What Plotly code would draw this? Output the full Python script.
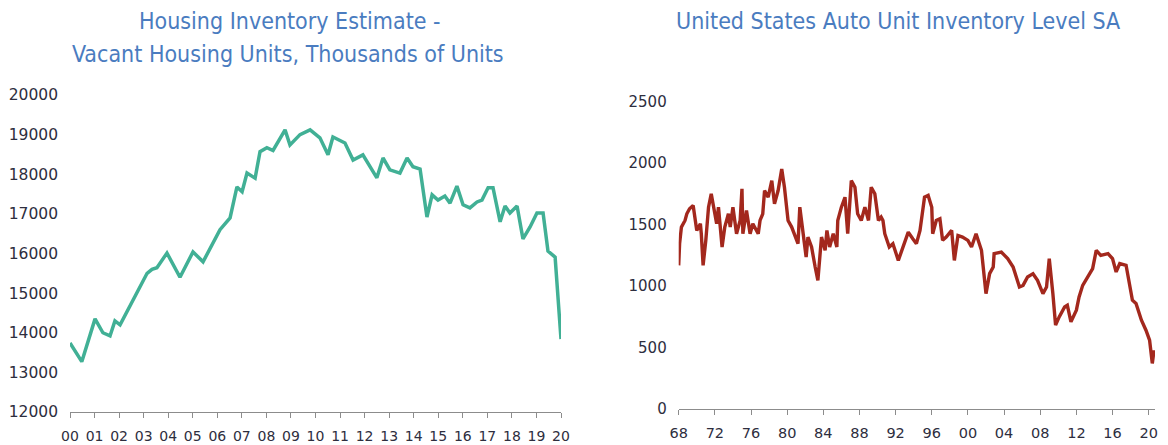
import plotly.graph_objects as go

# ---------------- Data ----------------
# Left: Housing inventory estimate (vacant housing units, thousands)
housing_years = [2000.0, 2000.48, 2001.02, 2001.34, 2001.63, 2001.83, 2002.04, 2002.57,
                 2003.14, 2003.34, 2003.54, 2003.95, 2004.48, 2005.01, 2005.42, 2006.11,
                 2006.52, 2006.80, 2007.01, 2007.21, 2007.54, 2007.74, 2008.02, 2008.27,
                 2008.76, 2008.96, 2009.37, 2009.78, 2010.18, 2010.51, 2010.71, 2011.20,
                 2011.53, 2011.93, 2012.50, 2012.75, 2013.03, 2013.44, 2013.73, 2013.97,
                 2014.26, 2014.54, 2014.75, 2014.99, 2015.27, 2015.48, 2015.76, 2016.01,
                 2016.29, 2016.58, 2016.78, 2017.03, 2017.23, 2017.52, 2017.72, 2017.92,
                 2018.21, 2018.45, 2018.74, 2019.02, 2019.27, 2019.47, 2019.76, 2020.0]
housing_values = [13740, 13270, 14350, 14000, 13920, 14300, 14200, 14830,
                  15500, 15600, 15640, 16010, 15400, 16040, 15790, 16600,
                  16900, 17680, 17560, 18030, 17900, 18570, 18670, 18600,
                  19120, 18740, 19000, 19120, 18920, 18490, 18940, 18790,
                  18360, 18490, 17910, 18410, 18110, 18030, 18410, 18190,
                  18130, 16920, 17480, 17350, 17450, 17270, 17700, 17230,
                  17150, 17300, 17350, 17660, 17660, 16800, 17200, 17020,
                  17200, 16370, 16670, 17020, 17020, 16060, 15910, 13840]

# Right: United States auto unit inventory level SA (thousands)
auto_years = [1968.0, 1968.1, 1968.3, 1968.7, 1968.9, 1969.2, 1969.6, 1969.8, 1970.0, 1970.4,
              1970.5, 1970.7, 1971.0, 1971.3, 1971.6, 1972.0, 1972.2, 1972.4, 1972.8, 1973.1,
              1973.5, 1973.7, 1974.0, 1974.4, 1974.8, 1975.0, 1975.1, 1975.5, 1975.9, 1976.2,
              1976.8, 1977.0, 1977.3, 1977.5, 1977.9, 1978.3, 1978.6, 1979.0, 1979.4, 1979.7,
              1980.1, 1980.5, 1980.9, 1981.2, 1981.4, 1981.8, 1982.1, 1982.3, 1982.7, 1983.1,
              1983.4, 1983.8, 1984.2, 1984.4, 1984.7, 1985.1, 1985.5, 1985.6, 1986.0, 1986.4,
              1986.7, 1987.1, 1987.5, 1987.8, 1988.2, 1988.6, 1989.0, 1989.3, 1989.7, 1990.1,
              1990.4, 1990.6, 1990.8, 1991.3, 1991.7, 1992.3, 1992.8, 1993.4, 1993.9, 1994.3,
              1994.7, 1995.2, 1995.6, 1996.0, 1996.1, 1996.5, 1996.9, 1997.2, 1997.6, 1998.2,
              1998.5, 1998.9, 1999.4, 2000.0, 2000.4, 2000.9, 2001.5, 2001.8, 2002.0, 2002.4,
              2002.8, 2002.9, 2003.7, 2004.4, 2005.0, 2005.7, 2006.1, 2006.6, 2007.2, 2007.7,
              2008.3, 2008.7, 2009.0, 2009.4, 2009.7, 2010.1, 2010.7, 2011.0, 2011.4, 2012.0,
              2012.3, 2012.7, 2013.3, 2013.8, 2014.2, 2014.7, 2015.5, 2016.0, 2016.4, 2016.8,
              2017.5, 2017.7, 2018.2, 2018.6, 2019.2, 2019.7, 2020.1, 2020.4, 2020.6]
auto_values = [1169, 1345, 1480, 1534, 1588, 1629, 1656, 1534, 1453, 1507,
               1426, 1169, 1372, 1642, 1751, 1588, 1507, 1642, 1318, 1480,
               1588, 1480, 1642, 1426, 1534, 1791, 1426, 1615, 1426, 1507,
               1426, 1534, 1588, 1777, 1723, 1858, 1669, 1777, 1953, 1804,
               1534, 1480, 1399, 1345, 1642, 1426, 1236, 1399, 1318, 1155,
               1047, 1399, 1291, 1453, 1318, 1426, 1318, 1534, 1642, 1723,
               1426, 1858, 1804, 1588, 1534, 1642, 1534, 1804, 1751, 1534,
               1561, 1534, 1426, 1318, 1345, 1209, 1318, 1439, 1385, 1345,
               1453, 1723, 1737, 1642, 1426, 1534, 1548, 1372, 1399, 1453,
               1209, 1412, 1399, 1372, 1318, 1426, 1291, 1101, 939, 1101,
               1155, 1264, 1277, 1223, 1155, 993, 1006, 1074, 1101, 1047,
               939, 993, 1223, 939, 682, 749, 830, 844, 709, 804,
               912, 1006, 1074, 1142, 1291, 1250, 1264, 1223, 1115, 1183,
               1169, 1088, 885, 858, 722, 641, 560, 371, 479]

housing_ticks = list(range(2000, 2021))
housing_ticktext = ["%02d" % (y % 100) for y in housing_ticks]
housing_yticks = [12000, 13000, 14000, 15000, 16000, 17000, 18000, 19000, 20000]

auto_ticks = list(range(1968, 2021, 4))
auto_ticktext = ["%02d" % (y % 100) for y in auto_ticks]
auto_yticks = [0, 500, 1000, 1500, 2000, 2500]

left_title_1 = "Housing Inventory Estimate -"
left_title_2 = "Vacant Housing Units, Thousands of Units"
right_title = "United States Auto Unit Inventory Level SA"

# ---------------- Figure ----------------
W, H = 1168, 445
TICK_COLOR = "#2e2e3e"
FAM = "DejaVu Sans, sans-serif"
title_font = dict(family="DejaVu Sans Condensed, sans-serif", size=23, color="#4a7cc0")

fig = go.Figure()
fig.add_trace(go.Scatter(x=housing_years, y=housing_values, mode="lines",
                         line=dict(color="#41b095", width=3.5), xaxis="x", yaxis="y",
                         showlegend=False, hoverinfo="skip"))
fig.add_trace(go.Scatter(x=auto_years, y=auto_values, mode="lines",
                         line=dict(color="#a3281d", width=3.4), xaxis="x2", yaxis="y2",
                         showlegend=False, hoverinfo="skip"))

xcommon = dict(showgrid=False, zeroline=False, showline=True, linecolor="#8c8c8c", linewidth=1,
               ticks="outside", ticklen=5, tickcolor="#8c8c8c", tickwidth=1,
               ticklabelstandoff=6, automargin=False)
ycommon = dict(showgrid=False, zeroline=False, showline=False, ticks="",
               ticklabelstandoff=11, automargin=False)

fig.update_layout(
    width=W, height=H,
    margin=dict(l=0, r=0, t=0, b=0, pad=0),
    paper_bgcolor="white", plot_bgcolor="white",
    xaxis=dict(domain=[70 / W, 561 / W], range=[2000, 2020], tickmode="array",
               tickvals=housing_ticks, ticktext=housing_ticktext, anchor="y",
               tickfont=dict(family=FAM, size=14, color=TICK_COLOR), **xcommon),
    yaxis=dict(domain=[(H - 412) / H, (H - 95) / H], range=[12000, 20000], tickmode="array",
               tickvals=housing_yticks, ticktext=[str(v) for v in housing_yticks],
               anchor="x", tickfont=dict(family=FAM, size=15.5, color=TICK_COLOR), **ycommon),
    xaxis2=dict(domain=[678.7 / W, 1155 / W], range=[1968, 2020.7], tickmode="array",
                tickvals=auto_ticks, ticktext=auto_ticktext, anchor="y2",
                tickfont=dict(family=FAM, size=14.5, color=TICK_COLOR), **xcommon),
    yaxis2=dict(domain=[(H - 409) / H, (H - 101.7) / H], range=[0, 2500], tickmode="array",
                tickvals=auto_yticks, ticktext=[str(v) for v in auto_yticks],
                anchor="x2", tickfont=dict(family=FAM, size=15, color=TICK_COLOR), **ycommon),
    annotations=[
        dict(text=left_title_1, x=290 / W, y=(H - 21) / H, xref="paper", yref="paper",
             showarrow=False, font=title_font, xanchor="center", yanchor="middle"),
        dict(text=left_title_2, x=288 / W, y=(H - 54) / H, xref="paper", yref="paper",
             showarrow=False, font=title_font, xanchor="center", yanchor="middle"),
        dict(text=right_title, x=898 / W, y=(H - 21) / H, xref="paper", yref="paper",
             showarrow=False, font=title_font, xanchor="center", yanchor="middle"),
    ],
)

fig.write_html("out.html", config={"displayModeBar": False},
               post_script="document.body.style.margin='0';document.body.style.overflow='hidden';")
